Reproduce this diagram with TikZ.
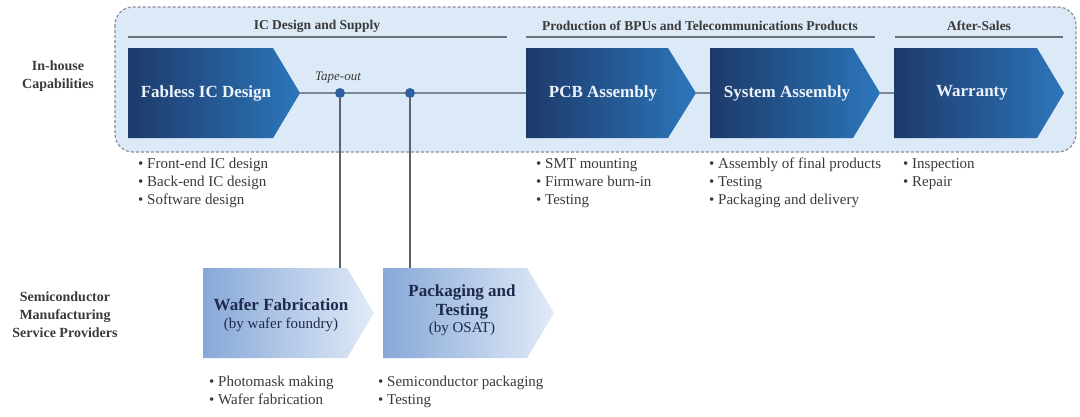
\documentclass[tikz,border=0pt]{standalone}
\usepackage{fontspec}
\setmainfont{Liberation Serif}
\usetikzlibrary{calc}
\definecolor{contfill}{HTML}{DCE9F6}
\definecolor{contline}{HTML}{8A9099}
\definecolor{hdrline}{HTML}{6A727C}
\definecolor{conline}{HTML}{7D8894}
\definecolor{vline}{HTML}{5C636B}
\definecolor{dotblue}{HTML}{2F5F9E}
\definecolor{topdark}{HTML}{1D3A6B}
\definecolor{toplight}{HTML}{2C76BA}
\definecolor{botdark}{HTML}{87A8D8}
\definecolor{botlight}{HTML}{E2EBF7}
\definecolor{navytext}{HTML}{1E2A4C}
\definecolor{bodytext}{HTML}{3A3A3A}
\definecolor{toptextc}{HTML}{EEF3FA}
\newcommand{\mysubfnt}{\mdseries\fontsize{15}{17.5}\selectfont}
\tikzset{
  container/.style={fill=contfill, draw=contline, densely dashed, line width=1.2pt, rounded corners=18pt},
  hdrtext/.style={font=\bfseries\fontsize{13.5}{16}\selectfont, text=bodytext, inner sep=0pt},
  hdrrule/.style={draw=hdrline, line width=2.5pt},
  chevtop/.style={left color=topdark, right color=toplight, draw=none},
  chevbot/.style={left color=botdark, right color=botlight, draw=none},
  toptitle/.style={font=\bfseries\fontsize{17}{20}\selectfont, text=toptextc, inner sep=0pt},
  bottitle/.style={font=\bfseries\fontsize{17}{17.5}\selectfont, text=navytext, inner sep=0pt, align=center},
  bullets/.style={font=\fontsize{15}{18}\selectfont, text=bodytext, inner sep=0pt, align=left, anchor=north west},
  sidelabel/.style={font=\bfseries\fontsize{14}{18}\selectfont, text=bodytext, inner sep=0pt, align=center},
  conn/.style={draw=conline, line width=1.1pt},
  vconn/.style={draw=vline, line width=1.8pt},
  tapedot/.style={circle, fill=dotblue, inner sep=0pt, minimum size=10pt},
  tapetext/.style={font=\itshape\fontsize{13}{15}\selectfont, text=bodytext, inner sep=0pt}
}
\begin{document}
\begin{tikzpicture}[x=1pt,y=-1pt]
\useasboundingbox (0,0) rectangle (1080,416);
\fill[white] (0,0) rectangle (1080,416);
% container
\path[container] (115,7) rectangle (1076,152);
% headers
\node[hdrtext] (h1) at (317,26) {IC Design and Supply};
\node[hdrtext] (h2) at (700,26) {Production of BPUs and Telecommunications Products};
\node[hdrtext] (h3) at (979,26) {After-Sales};
\draw[hdrrule] (128,37) -- (507,37);
\draw[hdrrule] (526,37) -- (875,37);
\draw[hdrrule] (895,37) -- (1063,37);
% coordinates for chevron ends
\coordinate (fabR) at (300,93);
\coordinate (pcbL) at (526,93);
\coordinate (pcbR) at (696,93);
\coordinate (sysL) at (710,93);
\coordinate (sysR) at (880,93);
\coordinate (warL) at (894,93);
\coordinate (wafT) at (340,268);
\coordinate (pkgT) at (410,268);
% horizontal connectors
\draw[conn] (fabR) -- (pcbL);
\draw[conn] (pcbR) -- (sysL);
\draw[conn] (sysR) -- (warL);
% top chevrons
\path[chevtop] (128,48) -- (273,48) -- (fabR) -- (273,138) -- (128,138) -- cycle;
\path[chevtop] (526,48) -- (668,48) -- (pcbR) -- (668,138) -- (526,138) -- cycle;
\path[chevtop] (710,48) -- (853,48) -- (sysR) -- (853,138) -- (710,138) -- cycle;
\path[chevtop] (894,48) -- (1037,48) -- (1064,93) -- (1037,138) -- (894,138) -- cycle;
\node[toptitle] (fab) at (206,93) {Fabless IC Design};
\node[toptitle] (pcb) at (603,93) {PCB Assembly};
\node[toptitle] (sys) at (787,93) {System Assembly};
\node[toptitle] (war) at (972,93) {Warranty};
% tape-out
\node[tapetext] (tape) at (338,78) {Tape-out};
\node[tapedot] (d1) at (340,93) {};
\node[tapedot] (d2) at (410,93) {};
\draw[vconn] (d1) -- (wafT);
\draw[vconn] (d2) -- (pkgT);
% bottom chevrons
\path[chevbot] (203,268) -- (347,268) -- (374,313) -- (347,358) -- (203,358) -- cycle;
\path[chevbot] (383,268) -- (527,268) -- (554,313) -- (527,358) -- (383,358) -- cycle;
\node[bottitle] (waf) at (281,315) {Wafer Fabrication\\{\mysubfnt (by wafer foundry)}};
\node[bottitle] (pkg) at (462,310) {Packaging and\\[1.5pt]Testing\\[-1pt]{\mysubfnt (by OSAT)}};
% side labels
\node[sidelabel] (inh) at (58,76) {In-house\\Capabilities};
\node[sidelabel] (smsp) at (65,315) {Semiconductor\\Manufacturing\\Service Providers};
% bullet lists
\node[bullets] (bfab) at (138,158) {• Front-end IC design\\• Back-end IC design\\• Software design};
\node[bullets] (bpcb) at (536,158) {• SMT mounting\\• Firmware burn-in\\• Testing};
\node[bullets] (bsys) at (709,158) {• Assembly of final products\\• Testing\\• Packaging and delivery};
\node[bullets] (bwar) at (903,158) {• Inspection\\• Repair};
\node[bullets] (bwaf) at (209,376) {• Photomask making\\• Wafer fabrication};
\node[bullets] (bpkg) at (378,376) {• Semiconductor packaging\\• Testing};
\end{tikzpicture}
\end{document}
